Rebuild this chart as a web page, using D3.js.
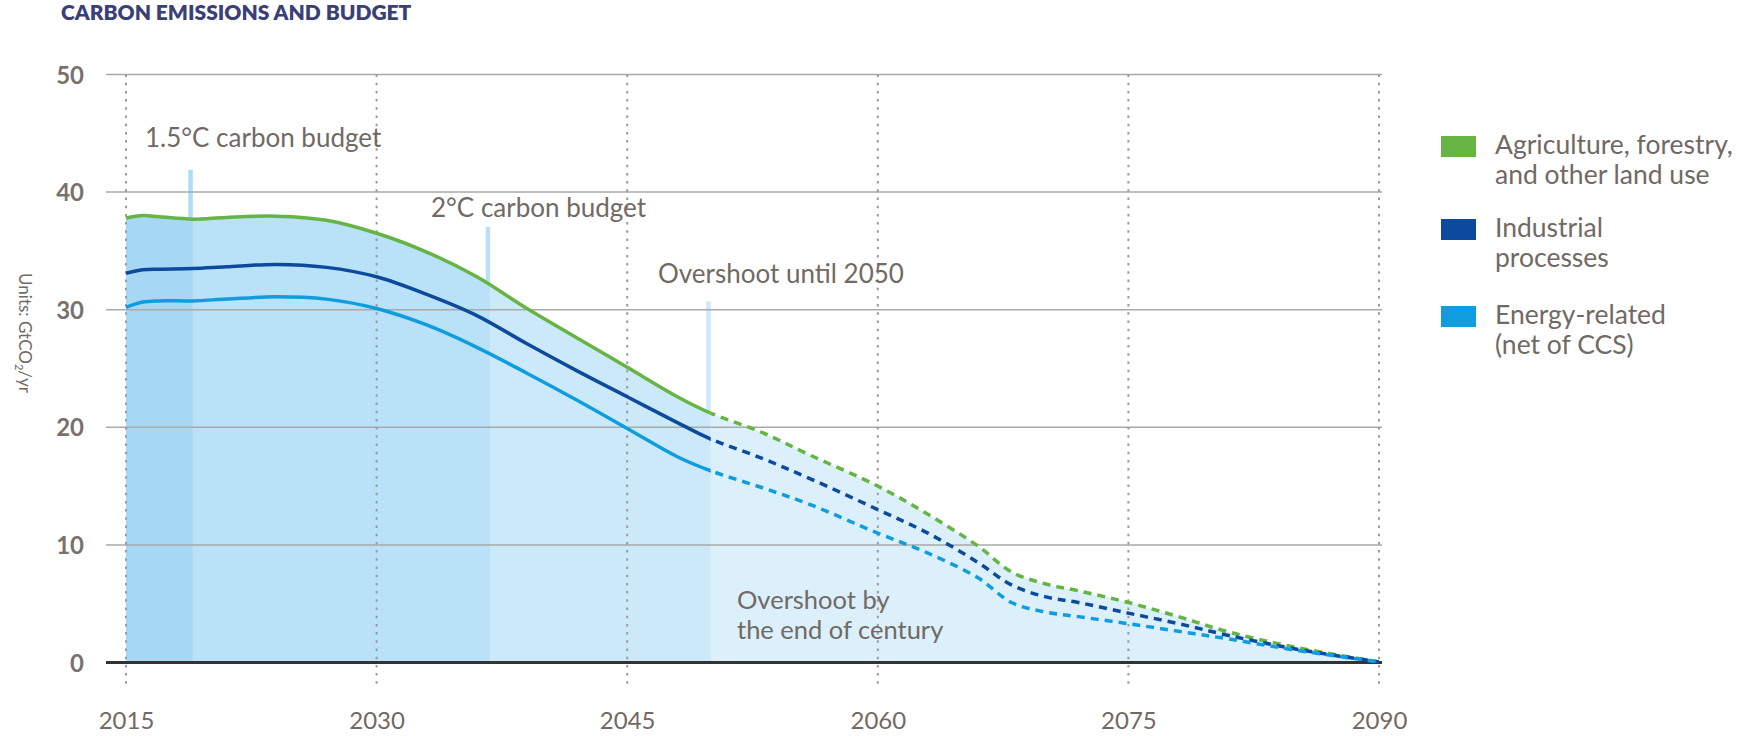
<!DOCTYPE html>
<html>
<head>
<meta charset="utf-8">
<script src="https://cdn.jsdelivr.net/npm/d3@7"></script>
<style>
  html, body { margin: 0; padding: 0; background: #ffffff; }
  svg { display: block; }
  text { font-family: Lato, "Open Sans", sans-serif; }
</style>
</head>
<body>
<svg id="chart" width="1743" height="736"></svg>
<script>
// ---- data ----
const years      = [2015, 2016, 2017, 2019, 2021, 2024, 2027, 2030, 2033, 2036, 2039, 2042, 2045, 2048, 2050, 2053, 2056, 2060, 2063, 2066, 2068, 2070, 2072, 2075, 2078, 2081, 2085, 2090];
const landUse    = [37.8, 38.0, 37.9, 37.7, 37.85, 37.95, 37.6, 36.5, 34.9, 32.8, 30.1, 27.6, 25.1, 22.6, 21.2, 19.6, 17.6, 15.0, 12.6, 9.9, 7.7, 6.7, 6.1, 5.1, 3.9, 2.6, 1.3, 0.05];
const industrial = [33.1, 33.4, 33.45, 33.5, 33.65, 33.85, 33.6, 32.8, 31.3, 29.5, 27.1, 24.8, 22.6, 20.4, 19.0, 17.4, 15.6, 13.0, 11.0, 8.5, 6.6, 5.6, 5.1, 4.2, 3.3, 2.3, 1.15, 0.05];
const energy     = [30.2, 30.65, 30.75, 30.75, 30.9, 31.1, 30.9, 30.1, 28.7, 26.8, 24.6, 22.3, 19.9, 17.5, 16.3, 14.9, 13.4, 11.0, 9.3, 7.2, 5.1, 4.3, 3.9, 3.3, 2.65, 2.0, 1.05, 0.05];

const xTickYears = [2015, 2030, 2045, 2060, 2075, 2090];
const yTickVals  = [0, 10, 20, 30, 40, 50];

const budgetYears  = [2019, 2036.8, 2050];
const budgetTops   = [41.9, 37.05, 30.7];
const budgetLabels = ["1.5°C carbon budget", "2°C carbon budget", "Overshoot until 2050"];
const bandEdges    = [2015, 2019, 2036.8, 2050, 2090];
const projectionStart = 2050;

const seriesNames  = ["Agriculture, forestry,|and other land use", "Industrial|processes", "Energy-related|(net of CCS)"];
const seriesColors = ["#66b443", "#0b4a9c", "#0f9de0"];
const bandColors   = ["#a6d8f4", "#b9e1f7", "#cce9f9", "#dcf0fc"];
const markerColors = ["#addcf7", "#b9e1f7", "#cce9f9"];

const title = "CARBON EMISSIONS AND BUDGET";
const yAxisTitle = "Units: GtCO";
const overshootText = ["Overshoot by", "the end of century"];

// ---- layout ----
const svg = d3.select("#chart");
const textColor = "#716964";
const x = d3.scaleLinear().domain([2015, 2090]).range([126, 1379]);
const y = d3.scaleLinear().domain([0, 50]).range([662.5, 74.5]);
const gridLeft = 106, gridRight = 1382;
const curve = d3.curveCatmullRom.alpha(0.5);

const defs = svg.append("defs");
bandColors.forEach((c, i) => {
  defs.append("clipPath").attr("id", "band" + i)
    .append("rect")
    .attr("x", x(bandEdges[i])).attr("y", 0)
    .attr("width", x(bandEdges[i + 1]) - x(bandEdges[i]))
    .attr("height", 736);
});
defs.append("clipPath").attr("id", "solidClip").append("rect")
  .attr("x", 0).attr("y", 0).attr("width", x(projectionStart)).attr("height", 736);
defs.append("clipPath").attr("id", "dashClip").append("rect")
  .attr("x", x(projectionStart)).attr("y", 0).attr("width", 1743 - x(projectionStart)).attr("height", 736);

// title
svg.append("text").attr("x", 61).attr("y", 20)
  .attr("font-size", 21).attr("font-weight", 800).attr("fill", "#3b3f78")
  .text(title);

// budget marker lines (behind area)
budgetYears.forEach((yr, i) => {
  svg.append("rect")
    .attr("x", x(yr) - 4.5).attr("width", 4.5)
    .attr("y", y(budgetTops[i])).attr("height", y(0) - y(budgetTops[i]))
    .attr("fill", markerColors[i]);
});

// area under the top line split in bands
const pts = years.map((yr, i) => ({ yr, top: landUse[i] }));
const area = d3.area().x(d => x(d.yr)).y0(y(0)).y1(d => y(d.top)).curve(curve);
bandColors.forEach((c, i) => {
  svg.append("path").attr("d", area(pts)).attr("fill", c)
    .attr("clip-path", `url(#band${i})`);
});

// horizontal grid
yTickVals.filter(v => v > 0).forEach(v => {
  svg.append("line").attr("x1", gridLeft).attr("x2", gridRight)
    .attr("y1", y(v)).attr("y2", y(v))
    .attr("stroke", "#a9a9a9").attr("stroke-width", 1.5);
});

// vertical dotted lines
xTickYears.forEach(yr => {
  svg.append("line").attr("x1", x(yr)).attr("x2", x(yr))
    .attr("y1", y(50)).attr("y2", 688)
    .attr("stroke", "#9a9a9a").attr("stroke-width", 2)
    .attr("stroke-dasharray", "2.5,5.7");
});

// zero line
svg.append("line").attr("x1", gridLeft).attr("x2", gridRight)
  .attr("y1", y(0)).attr("y2", y(0))
  .attr("stroke", "#333333").attr("stroke-width", 3);

// series lines
const seriesData = [landUse, industrial, energy];
const line = d3.line().x(d => x(d[0])).y(d => y(d[1])).curve(curve);
seriesData.forEach((vals, i) => {
  const data = years.map((yr, j) => [yr, vals[j]]);
  svg.append("path").attr("d", line(data)).attr("fill", "none")
    .attr("stroke", seriesColors[i]).attr("stroke-width", 3.5)
    .attr("clip-path", "url(#solidClip)");
  svg.append("path").attr("d", line(data)).attr("fill", "none")
    .attr("stroke", seriesColors[i]).attr("stroke-width", 3.5)
    .attr("stroke-dasharray", "8,6")
    .attr("clip-path", "url(#dashClip)");
});

// axes labels
const xAxis = d3.axisBottom(x).tickValues(xTickYears).tickFormat(d3.format("d")).tickSize(0).tickPadding(0);
const gx = svg.append("g").attr("transform", "translate(0,729)").call(xAxis);
gx.select(".domain").remove();
gx.selectAll("text").attr("dy", 0).attr("font-size", 24).attr("fill", textColor)
  .attr("font-family", "Lato, sans-serif");

const yAxis = d3.axisLeft(y).tickValues(yTickVals).tickFormat(d3.format("d")).tickSize(0).tickPadding(0);
const gy = svg.append("g").attr("transform", "translate(84,0)").call(yAxis);
gy.select(".domain").remove();
gy.selectAll("text").attr("dy", "0.36em").attr("font-size", 24).attr("font-weight", 700)
  .attr("fill", "#79716c").attr("font-family", "Lato, sans-serif");

// y axis title
const yt = svg.append("text").attr("transform", "translate(19,333) rotate(90)")
  .attr("text-anchor", "middle").attr("font-size", 17).attr("fill", textColor);
yt.append("tspan").text(yAxisTitle);
yt.append("tspan").attr("font-size", 11).attr("dy", 4).text("2");
yt.append("tspan").attr("dy", -4).text("/yr");

// budget labels
const labelPos = [[145, 147], [431, 217], [658, 283]];
budgetLabels.forEach((t, i) => {
  svg.append("text").attr("x", labelPos[i][0]).attr("y", labelPos[i][1])
    .attr("font-size", 26).attr("fill", textColor).text(t);
});
overshootText.forEach((t, i) => {
  svg.append("text").attr("x", 737).attr("y", 609 + i * 29.5)
    .attr("font-size", 25.5).attr("fill", textColor).text(t);
});

// legend
const legendTops = [136, 219, 306];
seriesNames.forEach((name, i) => {
  svg.append("rect").attr("x", 1441).attr("y", legendTops[i])
    .attr("width", 35).attr("height", 21).attr("fill", seriesColors[i]);
  name.split("|").forEach((ln, k) => {
    svg.append("text").attr("x", 1495).attr("y", legendTops[i] + 18 + k * 30)
      .attr("font-size", 26.5).attr("fill", textColor).text(ln);
  });
});
</script>
</body>
</html>
